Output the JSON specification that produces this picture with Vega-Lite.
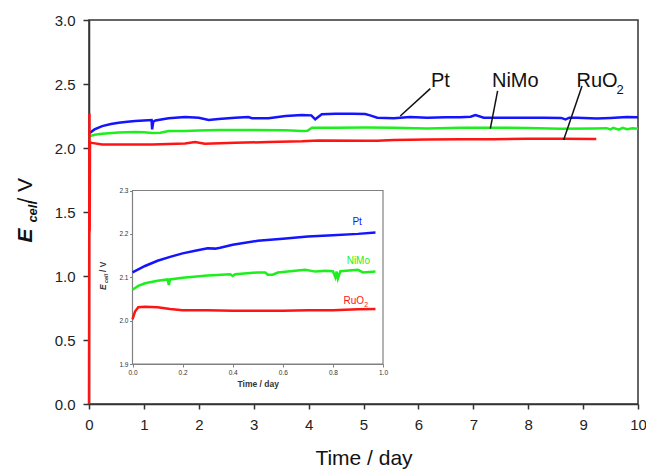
{
  "$schema": "https://vega.github.io/schema/vega-lite/v6.json",
  "width": 549,
  "height": 384,
  "autosize": "none",
  "padding": {"left": 89, "top": 20, "right": 8, "bottom": 66},
  "background": "white",
  "config": {
    "font": "Liberation Sans",
    "view": {"stroke": "#333333", "strokeWidth": 1.5},
    "axis": {"grid": false}
  },
  "datasets": {
    "main": [
      {"series": "Pt", "t": 0.0, "v": 2.11}, {"series": "Pt", "t": 0.02, "v": 2.12}, {"series": "Pt", "t": 0.1, "v": 2.145},
      {"series": "Pt", "t": 0.24, "v": 2.171}, {"series": "Pt", "t": 0.4, "v": 2.187}, {"series": "Pt", "t": 0.54, "v": 2.198},
      {"series": "Pt", "t": 0.7, "v": 2.205}, {"series": "Pt", "t": 0.84, "v": 2.211}, {"series": "Pt", "t": 1.0, "v": 2.215},
      {"series": "Pt", "t": 1.14, "v": 2.219}, {"series": "Pt", "t": 1.15, "v": 2.146}, {"series": "Pt", "t": 1.17, "v": 2.205},
      {"series": "Pt", "t": 1.21, "v": 2.215}, {"series": "Pt", "t": 1.45, "v": 2.232}, {"series": "Pt", "t": 1.75, "v": 2.242},
      {"series": "Pt", "t": 2.0, "v": 2.237}, {"series": "Pt", "t": 2.18, "v": 2.219}, {"series": "Pt", "t": 2.36, "v": 2.226},
      {"series": "Pt", "t": 2.66, "v": 2.237}, {"series": "Pt", "t": 2.9, "v": 2.242}, {"series": "Pt", "t": 2.97, "v": 2.232},
      {"series": "Pt", "t": 3.27, "v": 2.232}, {"series": "Pt", "t": 3.58, "v": 2.25}, {"series": "Pt", "t": 3.88, "v": 2.258},
      {"series": "Pt", "t": 4.05, "v": 2.255}, {"series": "Pt", "t": 4.12, "v": 2.224}, {"series": "Pt", "t": 4.24, "v": 2.263},
      {"series": "Pt", "t": 4.49, "v": 2.268}, {"series": "Pt", "t": 4.8, "v": 2.268}, {"series": "Pt", "t": 5.03, "v": 2.266},
      {"series": "Pt", "t": 5.12, "v": 2.255}, {"series": "Pt", "t": 5.25, "v": 2.237}, {"series": "Pt", "t": 5.55, "v": 2.232},
      {"series": "Pt", "t": 5.85, "v": 2.242}, {"series": "Pt", "t": 6.16, "v": 2.237}, {"series": "Pt", "t": 6.5, "v": 2.24},
      {"series": "Pt", "t": 6.76, "v": 2.24}, {"series": "Pt", "t": 6.95, "v": 2.245}, {"series": "Pt", "t": 7.04, "v": 2.258},
      {"series": "Pt", "t": 7.19, "v": 2.237}, {"series": "Pt", "t": 7.67, "v": 2.237}, {"series": "Pt", "t": 8.28, "v": 2.237},
      {"series": "Pt", "t": 8.6, "v": 2.235}, {"series": "Pt", "t": 8.68, "v": 2.224}, {"series": "Pt", "t": 8.75, "v": 2.237},
      {"series": "Pt", "t": 8.89, "v": 2.237}, {"series": "Pt", "t": 9.25, "v": 2.23}, {"series": "Pt", "t": 9.5, "v": 2.235},
      {"series": "Pt", "t": 9.8, "v": 2.242}, {"series": "Pt", "t": 10.0, "v": 2.24},
      {"series": "NiMo", "t": 0.0, "v": 2.08}, {"series": "NiMo", "t": 0.02, "v": 2.093}, {"series": "NiMo", "t": 0.1, "v": 2.103},
      {"series": "NiMo", "t": 0.24, "v": 2.112}, {"series": "NiMo", "t": 0.54, "v": 2.122}, {"series": "NiMo", "t": 0.84, "v": 2.125},
      {"series": "NiMo", "t": 1.0, "v": 2.123}, {"series": "NiMo", "t": 1.15, "v": 2.117}, {"series": "NiMo", "t": 1.3, "v": 2.12},
      {"series": "NiMo", "t": 1.45, "v": 2.133}, {"series": "NiMo", "t": 1.75, "v": 2.133}, {"series": "NiMo", "t": 2.0, "v": 2.136},
      {"series": "NiMo", "t": 2.36, "v": 2.141}, {"series": "NiMo", "t": 2.97, "v": 2.141}, {"series": "NiMo", "t": 3.58, "v": 2.138},
      {"series": "NiMo", "t": 3.88, "v": 2.133}, {"series": "NiMo", "t": 3.98, "v": 2.135}, {"series": "NiMo", "t": 4.06, "v": 2.159},
      {"series": "NiMo", "t": 4.49, "v": 2.159}, {"series": "NiMo", "t": 5.03, "v": 2.161}, {"series": "NiMo", "t": 5.55, "v": 2.159},
      {"series": "NiMo", "t": 6.16, "v": 2.153}, {"series": "NiMo", "t": 6.76, "v": 2.159}, {"series": "NiMo", "t": 7.31, "v": 2.159},
      {"series": "NiMo", "t": 7.98, "v": 2.156}, {"series": "NiMo", "t": 8.59, "v": 2.151}, {"series": "NiMo", "t": 9.19, "v": 2.153},
      {"series": "NiMo", "t": 9.43, "v": 2.155}, {"series": "NiMo", "t": 9.5, "v": 2.145}, {"series": "NiMo", "t": 9.55, "v": 2.158},
      {"series": "NiMo", "t": 9.65, "v": 2.143}, {"series": "NiMo", "t": 9.72, "v": 2.157}, {"series": "NiMo", "t": 9.8, "v": 2.146},
      {"series": "NiMo", "t": 9.9, "v": 2.155}, {"series": "NiMo", "t": 10.0, "v": 2.151},
      {"series": "RuO2", "t": 0.0, "v": 0.0}, {"series": "RuO2", "t": 0.008, "v": 2.27}, {"series": "RuO2", "t": 0.012, "v": 1.35},
      {"series": "RuO2", "t": 0.018, "v": 2.045}, {"series": "RuO2", "t": 0.05, "v": 2.04}, {"series": "RuO2", "t": 0.24, "v": 2.028},
      {"series": "RuO2", "t": 0.54, "v": 2.028}, {"series": "RuO2", "t": 1.15, "v": 2.028}, {"series": "RuO2", "t": 1.75, "v": 2.036},
      {"series": "RuO2", "t": 1.93, "v": 2.046}, {"series": "RuO2", "t": 2.11, "v": 2.034}, {"series": "RuO2", "t": 2.66, "v": 2.041},
      {"series": "RuO2", "t": 3.27, "v": 2.046}, {"series": "RuO2", "t": 3.88, "v": 2.052}, {"series": "RuO2", "t": 4.18, "v": 2.059},
      {"series": "RuO2", "t": 5.03, "v": 2.057}, {"series": "RuO2", "t": 5.25, "v": 2.056}, {"series": "RuO2", "t": 5.55, "v": 2.062},
      {"series": "RuO2", "t": 6.16, "v": 2.067}, {"series": "RuO2", "t": 6.76, "v": 2.069}, {"series": "RuO2", "t": 7.37, "v": 2.069},
      {"series": "RuO2", "t": 7.98, "v": 2.073}, {"series": "RuO2", "t": 8.59, "v": 2.073}, {"series": "RuO2", "t": 9.24, "v": 2.07}
    ],
    "leaders": [
      {"t": 6.217, "v": 2.464, "t2": 5.67, "v2": 2.25},
      {"t": 7.443, "v": 2.446, "t2": 7.31, "v2": 2.151},
      {"t": 8.98, "v": 2.485, "t2": 8.645, "v2": 2.062}
    ],
    "labels": [
      {"label": "Pt", "t": 6.23, "v": 2.48},
      {"label": "NiMo", "t": 7.34, "v": 2.48},
      {"label": "RuO", "t": 8.88, "v": 2.48}
    ],
    "subs": [{"label": "2", "t": 9.61, "v": 2.42}],
    "inset": [
      {"series": "Pt", "t": 0.0, "v": 2.111}, {"series": "Pt", "t": 0.05, "v": 2.126}, {"series": "Pt", "t": 0.1, "v": 2.138},
      {"series": "Pt", "t": 0.15, "v": 2.147}, {"series": "Pt", "t": 0.2, "v": 2.155}, {"series": "Pt", "t": 0.25, "v": 2.161},
      {"series": "Pt", "t": 0.3, "v": 2.167}, {"series": "Pt", "t": 0.33, "v": 2.166}, {"series": "Pt", "t": 0.35, "v": 2.168},
      {"series": "Pt", "t": 0.4, "v": 2.175}, {"series": "Pt", "t": 0.5, "v": 2.184}, {"series": "Pt", "t": 0.6, "v": 2.189},
      {"series": "Pt", "t": 0.7, "v": 2.194}, {"series": "Pt", "t": 0.8, "v": 2.197}, {"series": "Pt", "t": 0.9, "v": 2.2},
      {"series": "Pt", "t": 0.97, "v": 2.203},
      {"series": "NiMo", "t": 0.0, "v": 2.071}, {"series": "NiMo", "t": 0.023, "v": 2.08}, {"series": "NiMo", "t": 0.05, "v": 2.086},
      {"series": "NiMo", "t": 0.1, "v": 2.092}, {"series": "NiMo", "t": 0.14, "v": 2.095}, {"series": "NiMo", "t": 0.145, "v": 2.082},
      {"series": "NiMo", "t": 0.15, "v": 2.095}, {"series": "NiMo", "t": 0.2, "v": 2.099}, {"series": "NiMo", "t": 0.3, "v": 2.104},
      {"series": "NiMo", "t": 0.39, "v": 2.107}, {"series": "NiMo", "t": 0.4, "v": 2.103}, {"series": "NiMo", "t": 0.41, "v": 2.107},
      {"series": "NiMo", "t": 0.5, "v": 2.111}, {"series": "NiMo", "t": 0.53, "v": 2.111}, {"series": "NiMo", "t": 0.54, "v": 2.106},
      {"series": "NiMo", "t": 0.56, "v": 2.106}, {"series": "NiMo", "t": 0.58, "v": 2.111}, {"series": "NiMo", "t": 0.6, "v": 2.112},
      {"series": "NiMo", "t": 0.69, "v": 2.117}, {"series": "NiMo", "t": 0.73, "v": 2.113}, {"series": "NiMo", "t": 0.77, "v": 2.115},
      {"series": "NiMo", "t": 0.8, "v": 2.114}, {"series": "NiMo", "t": 0.81, "v": 2.1}, {"series": "NiMo", "t": 0.815, "v": 2.113},
      {"series": "NiMo", "t": 0.82, "v": 2.097}, {"series": "NiMo", "t": 0.83, "v": 2.114}, {"series": "NiMo", "t": 0.9, "v": 2.117},
      {"series": "NiMo", "t": 0.92, "v": 2.111}, {"series": "NiMo", "t": 0.97, "v": 2.113},
      {"series": "RuO2", "t": 0.0, "v": 2.003}, {"series": "RuO2", "t": 0.01, "v": 2.021}, {"series": "RuO2", "t": 0.023, "v": 2.031},
      {"series": "RuO2", "t": 0.05, "v": 2.032}, {"series": "RuO2", "t": 0.1, "v": 2.031}, {"series": "RuO2", "t": 0.15, "v": 2.027},
      {"series": "RuO2", "t": 0.2, "v": 2.024}, {"series": "RuO2", "t": 0.3, "v": 2.024}, {"series": "RuO2", "t": 0.4, "v": 2.023},
      {"series": "RuO2", "t": 0.5, "v": 2.023}, {"series": "RuO2", "t": 0.6, "v": 2.023}, {"series": "RuO2", "t": 0.7, "v": 2.024},
      {"series": "RuO2", "t": 0.8, "v": 2.024}, {"series": "RuO2", "t": 0.9, "v": 2.026}, {"series": "RuO2", "t": 0.97, "v": 2.027}
    ],
    "insetLabels": [
      {"series": "Pt", "label": "Pt", "t": 0.878, "v": 2.2205},
      {"series": "NiMo", "label": "NiMo", "t": 0.855, "v": 2.13},
      {"series": "RuO2", "label": "RuO", "t": 0.842, "v": 2.038}
    ],
    "insetSubs": [{"series": "RuO2", "label": "2", "t": 0.925, "v": 2.032}]
  },
  "layer": [
    {
      "layer": [
        {
          "data": {"name": "main"},
          "mark": {"type": "line", "strokeWidth": 2.5},
          "encoding": {
            "x": {
              "field": "t", "type": "quantitative",
              "scale": {"domain": [0, 10], "nice": false, "zero": false},
              "axis": {
                "orient": "bottom", "values": [0, 1, 2, 3, 4, 5, 6, 7, 8, 9, 10],
                "title": "Time / day", "labelFontSize": 15, "labelColor": "#222222", "labelPadding": 8,
                "tickSize": 5, "tickColor": "#333333", "tickWidth": 1.5, "domainColor": "#333333", "domainWidth": 1.5,
                "titleFontSize": 21, "titleFontWeight": "normal", "titleColor": "#111111", "titlePadding": 15, "labelFlush": false
              }
            },
            "y": {
              "field": "v", "type": "quantitative",
              "scale": {"domain": [0, 3], "nice": false, "zero": false},
              "axis": {
                "orient": "left", "values": [0, 0.5, 1, 1.5, 2, 2.5, 3], "format": ".1f", "title": null,
                "labelFontSize": 15, "labelColor": "#222222", "labelPadding": 8,
                "tickSize": 6, "tickColor": "#333333", "tickWidth": 1.5, "domainColor": "#333333", "domainWidth": 1.5
              }
            },
            "color": {
              "field": "series", "type": "nominal",
              "scale": {"domain": ["Pt", "NiMo", "RuO2"], "range": ["#1414ff", "#1cf01c", "#ff1414"]},
              "legend": null
            }
          }
        },
        {
          "data": {"name": "leaders"},
          "mark": {"type": "rule", "color": "#111111", "strokeWidth": 1.5},
          "encoding": {
            "x": {"field": "t", "type": "quantitative"},
            "y": {"field": "v", "type": "quantitative"},
            "x2": {"field": "t2"},
            "y2": {"field": "v2"}
          }
        },
        {
          "data": {"name": "labels"},
          "mark": {"type": "text", "align": "left", "baseline": "alphabetic", "fontSize": 20, "color": "#111111"},
          "encoding": {
            "x": {"field": "t", "type": "quantitative"},
            "y": {"field": "v", "type": "quantitative"},
            "text": {"field": "label"}
          }
        },
        {
          "data": {"name": "subs"},
          "mark": {"type": "text", "align": "left", "baseline": "alphabetic", "fontSize": 13, "color": "#111111"},
          "encoding": {
            "x": {"field": "t", "type": "quantitative"},
            "y": {"field": "v", "type": "quantitative"},
            "text": {"field": "label"}
          }
        },
        {
          "data": {"values": [{}]},
          "mark": {"type": "text", "text": "E", "angle": 270, "align": "left", "baseline": "alphabetic", "fontSize": 21, "fontStyle": "italic", "fontWeight": "bold", "color": "#111111"},
          "encoding": {"x": {"datum": -1.033, "type": "quantitative"}, "y": {"datum": 1.261, "type": "quantitative"}}
        },
        {
          "data": {"values": [{}]},
          "mark": {"type": "text", "text": "cell", "angle": 270, "align": "left", "baseline": "alphabetic", "fontSize": 13, "fontStyle": "italic", "fontWeight": "bold", "color": "#111111"},
          "encoding": {"x": {"datum": -0.942, "type": "quantitative"}, "y": {"datum": 1.417, "type": "quantitative"}}
        },
        {
          "data": {"values": [{}]},
          "mark": {"type": "text", "text": "/ V", "angle": 270, "align": "left", "baseline": "alphabetic", "fontSize": 21, "color": "#111111"},
          "encoding": {"x": {"datum": -1.033, "type": "quantitative"}, "y": {"datum": 1.566, "type": "quantitative"}}
        }
      ]
    },
    {
      "layer": [
        {
          "data": {"values": [{}]},
          "mark": {"type": "rect", "fill": "white", "stroke": "#808080", "strokeWidth": 1.2},
          "encoding": {
            "x": {"datum": 0, "type": "quantitative"},
            "x2": {"datum": 1},
            "y": {"datum": 1.9, "type": "quantitative"},
            "y2": {"datum": 2.3}
          }
        },
        {
          "data": {"name": "inset"},
          "mark": {"type": "line", "strokeWidth": 2.5},
          "encoding": {
            "x": {
              "field": "t", "type": "quantitative",
              "scale": {"domain": [0, 1], "range": [43.5, 294], "nice": false, "zero": false},
              "axis": {
                "orient": "bottom", "offset": -40, "values": [0, 0.2, 0.4, 0.6, 0.8, 1], "format": ".1f",
                "title": "Time / day", "labelFontSize": 6.5, "labelColor": "#333333", "labelPadding": 2,
                "tickSize": 3, "tickColor": "#808080", "domainColor": "#808080", "domainWidth": 1.2,
                "titleFontSize": 8.5, "titleFontWeight": "bold", "titleColor": "#333333", "titlePadding": 4, "labelFlush": false
              }
            },
            "y": {
              "field": "v", "type": "quantitative",
              "scale": {"domain": [1.9, 2.3], "range": [344, 170.5], "nice": false, "zero": false},
              "axis": {
                "orient": "left", "offset": -43.5, "values": [1.9, 2.0, 2.1, 2.2, 2.3], "format": ".1f", "title": null,
                "labelFontSize": 6.5, "labelColor": "#333333", "labelPadding": 1.5,
                "tickSize": 3, "tickColor": "#808080", "domainColor": "#808080", "domainWidth": 1.2
              }
            },
            "color": {"field": "series", "type": "nominal", "legend": null}
          }
        },
        {
          "data": {"name": "insetLabels"},
          "mark": {"type": "text", "align": "left", "baseline": "alphabetic", "fontSize": 10},
          "encoding": {
            "x": {"field": "t", "type": "quantitative"},
            "y": {"field": "v", "type": "quantitative"},
            "text": {"field": "label"},
            "color": {"field": "series", "type": "nominal", "legend": null}
          }
        },
        {
          "data": {"name": "insetSubs"},
          "mark": {"type": "text", "align": "left", "baseline": "alphabetic", "fontSize": 7},
          "encoding": {
            "x": {"field": "t", "type": "quantitative"},
            "y": {"field": "v", "type": "quantitative"},
            "text": {"field": "label"},
            "color": {"field": "series", "type": "nominal", "legend": null}
          }
        },
        {
          "data": {"values": [{}]},
          "mark": {"type": "text", "text": "E", "angle": 270, "align": "left", "baseline": "alphabetic", "fontSize": 8.5, "fontStyle": "italic", "fontWeight": "bold", "color": "#333333"},
          "encoding": {"x": {"datum": -0.105, "type": "quantitative"}, "y": {"datum": 2.0706, "type": "quantitative"}}
        },
        {
          "data": {"values": [{}]},
          "mark": {"type": "text", "text": "cell", "angle": 270, "align": "left", "baseline": "alphabetic", "fontSize": 5.5, "fontStyle": "italic", "fontWeight": "bold", "color": "#333333"},
          "encoding": {"x": {"datum": -0.096, "type": "quantitative"}, "y": {"datum": 2.0867, "type": "quantitative"}}
        },
        {
          "data": {"values": [{}]},
          "mark": {"type": "text", "text": "/ V", "angle": 270, "align": "left", "baseline": "alphabetic", "fontSize": 8.5, "fontWeight": "bold", "color": "#333333"},
          "encoding": {"x": {"datum": -0.105, "type": "quantitative"}, "y": {"datum": 2.1121, "type": "quantitative"}}
        }
      ]
    }
  ],
  "resolve": {"scale": {"x": "independent", "y": "independent"}, "axis": {"x": "independent", "y": "independent"}}
}
